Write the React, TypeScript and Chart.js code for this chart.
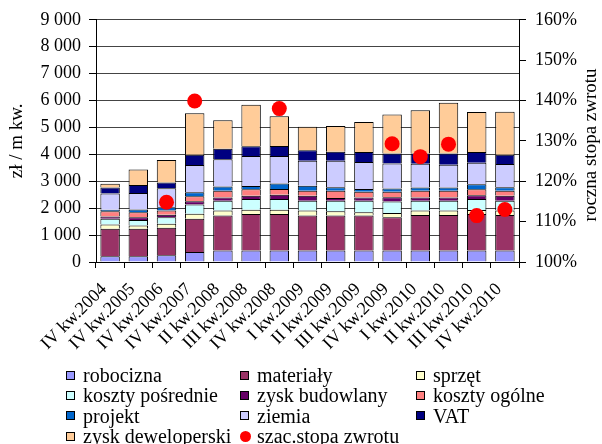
import React, { useEffect, useRef } from "react";
import { Chart, registerables } from "chart.js";

Chart.register(...registerables);

const SERIF = '"Liberation Serif", "Times New Roman", serif';

const categories = [
  "IV kw.2004", "IV kw.2005", "IV kw.2006", "IV kw.2007", "II kw.2008",
  "III kw.2008", "IV kw.2008", "I kw.2009", "II kw.2009", "III kw.2009",
  "IV kw.2009", "I kw.2010", "II kw.2010", "III kw.2010", "IV kw.2010",
];

// cost components, zł / m kw.
const robocizna = [210, 210, 250, 370, 430, 430, 430, 430, 430, 430, 430, 430, 430, 430, 430];
const materialy = [1025, 1025, 1020, 1235, 1295, 1355, 1355, 1295, 1295, 1295, 1235, 1320, 1320, 1355, 1320];
const sprzet = [160, 120, 150, 185, 185, 160, 160, 185, 160, 125, 160, 160, 160, 150, 160];
const kosztyPosrednie = [210, 210, 245, 345, 370, 395, 395, 370, 395, 430, 420, 370, 370, 405, 370];
const zyskBudowlany = [85, 100, 90, 120, 120, 120, 160, 185, 100, 120, 160, 120, 120, 145, 185];
const kosztyOgolne = [195, 185, 160, 185, 245, 245, 210, 185, 270, 210, 210, 245, 245, 220, 185];
const projekt = [60, 100, 120, 150, 160, 120, 210, 185, 125, 100, 120, 125, 125, 185, 125];
const ziemia = [600, 615, 705, 1015, 1010, 1110, 1020, 925, 985, 1010, 925, 885, 840, 800, 865];
const vat = [220, 295, 210, 380, 390, 370, 370, 395, 335, 370, 370, 380, 420, 395, 345];
const zyskDeweloperski = [140, 580, 840, 1540, 1060, 1540, 1110, 875, 960, 1110, 1455, 1605, 1885, 1490, 1600];

// estimated annual rate of return, %
const stopaZwrotu = [null, null, 114.8, 139.9, null, null, 138.0, null, null, null, 129.3, 126.1, 129.2, 111.5, 113.0];

const leftTicks = [0, 9000, 1000];
const rightTicks = [100, 160, 10];

const barSeries = [
  { label: "robocizna", data: robocizna, color: "#9999FF" },
  { label: "materiały", data: materialy, color: "#993366" },
  { label: "sprzęt", data: sprzet, color: "#FFFFCC" },
  { label: "koszty pośrednie", data: kosztyPosrednie, color: "#CCFFFF" },
  { label: "zysk budowlany", data: zyskBudowlany, color: "#660066" },
  { label: "koszty ogólne", data: kosztyOgolne, color: "#FF8080" },
  { label: "projekt", data: projekt, color: "#0066CC" },
  { label: "ziemia", data: ziemia, color: "#CCCCFF" },
  { label: "VAT", data: vat, color: "#000080" },
  { label: "zysk deweloperski", data: zyskDeweloperski, color: "#FFCC99" },
];
const dotSeries = { label: "szac.stopa zwrotu", color: "#FF0000" };

const fmtThousands = (v: number) => {
  if (v < 1000) return String(v);
  const t = Math.floor(v / 1000);
  const r = String(v % 1000).padStart(3, "0");
  return `${t} ${r}`;
};

// right-hand axis title, read bottom-to-top
const rightTitlePlugin = {
  id: "rightTitle",
  afterDraw(chart: any) {
    const s = chart.scales.y1;
    const ctx = chart.ctx;
    ctx.save();
    ctx.font = `19px ${SERIF}`;
    ctx.fillStyle = "#000";
    ctx.textAlign = "center";
    ctx.textBaseline = "middle";
    ctx.translate(s.right - 11, (chart.chartArea.top + chart.chartArea.bottom) / 2 + 4);
    ctx.rotate(-Math.PI / 2);
    ctx.fillText("roczna stopa zwrotu", 0, 0);
    ctx.restore();
  },
};

export default function App() {
  const ref = useRef<HTMLCanvasElement | null>(null);

  useEffect(() => {
    if (!ref.current) return;
    Chart.defaults.font.family = SERIF;
    Chart.defaults.color = "#000";

    const datasets: any[] = barSeries.map((s) => ({
      type: "bar",
      label: s.label,
      data: s.data,
      backgroundColor: s.color,
      borderColor: "#000",
      borderWidth: 1,
      yAxisID: "y",
      order: 1,
      categoryPercentage: 1,
      barPercentage: 0.69,
    }));
    datasets.push({
      type: "line",
      label: dotSeries.label,
      data: stopaZwrotu,
      showLine: false,
      pointRadius: 7.5,
      pointBackgroundColor: dotSeries.color,
      pointBorderWidth: 0,
      borderColor: dotSeries.color,
      yAxisID: "y1",
      order: 0,
    });

    const chart = new Chart(ref.current, {
      type: "bar",
      data: { labels: categories, datasets },
      options: {
        responsive: false,
        animation: false,
        devicePixelRatio: 1,
        layout: { padding: { top: 18, left: 0, right: 0, bottom: 0 } },
        plugins: { legend: { display: false }, tooltip: { enabled: false } },
        scales: {
          x: {
            stacked: true,
            offset: true,
            grid: { offset: true, drawOnChartArea: false, tickLength: 6, tickColor: "#000" },
            border: { color: "#000" },
            ticks: {
              autoSkip: false,
              minRotation: 45,
              maxRotation: 45,
              color: "#000",
              font: { size: 18, family: SERIF },
              padding: 11,
              labelOffset: -6,
            },
            afterFit: (s: any) => {
              s.height = 182;
            },
          },
          y: {
            stacked: true,
            position: "left",
            min: leftTicks[0],
            max: leftTicks[1],
            ticks: {
              stepSize: leftTicks[2],
              callback: (v: any) => fmtThousands(Number(v)),
              color: "#000",
              font: { size: 18, family: SERIF },
              padding: 8,
            },
            grid: { color: "#444", tickColor: "#000", tickLength: 7 },
            border: { color: "#000" },
            title: {
              display: true,
              text: "zł / m kw.",
              color: "#000",
              font: { size: 19, family: SERIF },
              padding: { top: 6, bottom: 0 },
            },
            afterFit: (s: any) => {
              s.width = 96;
            },
          },
          y1: {
            position: "right",
            min: rightTicks[0],
            max: rightTicks[1],
            ticks: {
              stepSize: rightTicks[2],
              callback: (v: any) => `${v}%`,
              color: "#000",
              font: { size: 18, family: SERIF },
              padding: 9,
            },
            grid: { drawOnChartArea: false, tickColor: "#000", tickLength: 7 },
            border: { color: "#000" },
            afterFit: (s: any) => {
              s.width = 83;
            },
          },
        },
      } as any,
      plugins: [rightTitlePlugin],
    });
    return () => chart.destroy();
  }, []);

  const legendItems = [...barSeries.map((s) => ({ ...s, dot: false })), { ...dotSeries, data: [], dot: true }];

  return (
    <div style={{ position: "fixed", left: 0, top: 0, width: 602, height: 444, background: "#fff" }}>
      <canvas ref={ref} width={602} height={444} style={{ width: 602, height: 444, display: "block" }} />
      <div
        style={{
          position: "absolute",
          left: 66,
          top: 365,
          display: "grid",
          gridTemplateColumns: "174px 176px 160px",
          gridAutoRows: "20.3px",
          fontFamily: SERIF,
          fontSize: 20,
          color: "#000",
        }}
      >
        {legendItems.map((it) => (
          <div key={it.label} style={{ display: "flex", alignItems: "center", whiteSpace: "nowrap", lineHeight: "20px" }}>
            {it.dot ? (
              <span
                style={{
                  display: "inline-block",
                  width: 11,
                  height: 11,
                  borderRadius: "50%",
                  background: it.color,
                  marginRight: 6,
                }}
              />
            ) : (
              <span
                style={{
                  display: "inline-block",
                  width: 7,
                  height: 7,
                  border: "1px solid #000",
                  background: it.color,
                  marginRight: 8,
                }}
              />
            )}
            <span>{it.label}</span>
          </div>
        ))}
      </div>
    </div>
  );
}
